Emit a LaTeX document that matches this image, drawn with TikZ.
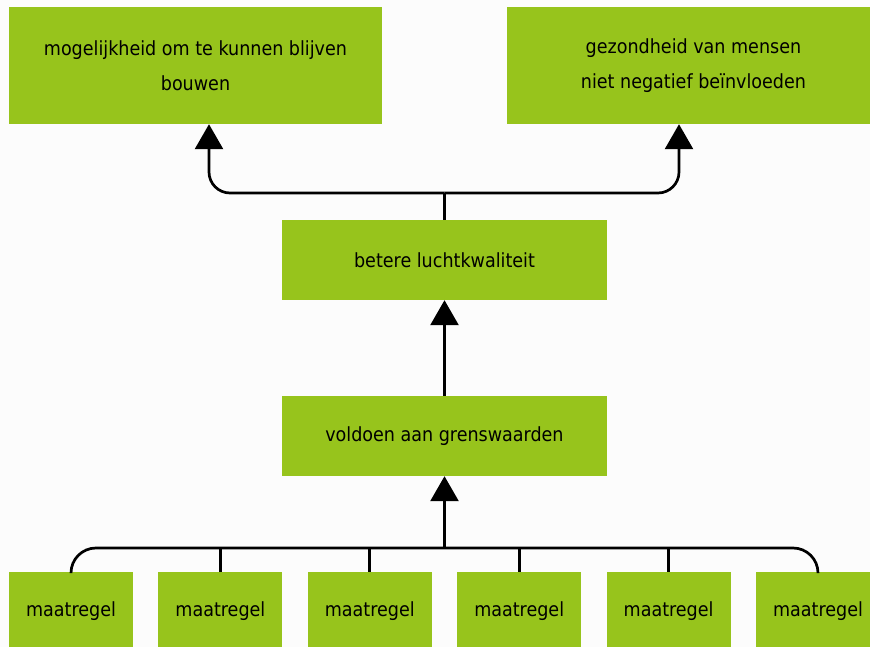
\documentclass[tikz,border=0pt]{standalone}
\usepackage{fontspec}
\setmainfont{DejaVu Sans Condensed}
\usetikzlibrary{arrows.meta}
\definecolor{boxgreen}{RGB}{151,196,28}
\definecolor{bgcol}{RGB}{252,252,252}
\tikzset{
  gbox/.style={fill=boxgreen, draw=none, inner sep=0pt, align=center,
    font=\fontsize{19.5}{35}\selectfont, text=black},
  conn/.style={line width=2.7pt, draw=black},
  arr/.style={conn, -{Triangle[width=28pt,length=25pt]}}
}
\begin{document}
\begin{tikzpicture}[x=1pt,y=-1pt]
\useasboundingbox (0,0) rectangle (870,647);
\clip (0,0) rectangle (870,647);
\fill[bgcol] (0,0) rectangle (870,647);
% top boxes
\node[gbox, minimum width=373pt, minimum height=117pt] (top1) at (195.5,65.5) {mogelijkheid om te kunnen blijven\\bouwen};
\node[gbox, minimum width=373pt, minimum height=117pt] (top2) at (693.5,65.5) {gezondheid van mensen\\niet negatief beïnvloeden};
% middle boxes
\node[gbox, minimum width=325pt, minimum height=80pt] (betere) at (444.5,260) {betere luchtkwaliteit};
\node[gbox, minimum width=325pt, minimum height=80pt] (voldoen) at (444.5,436) {voldoen aan grenswaarden};
% bottom boxes
\foreach \i in {1,...,6} {
  \node[gbox, minimum width=124pt, minimum height=78pt] (m\i) at ({71+149.4*(\i-1)},611) {maatregel};
}
% junction coordinates
\coordinate (jn) at (444.5,193);
\coordinate (jl) at (209,193);
\coordinate (jr) at (679,193);
\coordinate (bus) at (444.5,548);
% connectors top
\draw[conn] (betere.north) -- (jn);
\draw[arr, rounded corners=21pt] (jn) -- (jl) -- (jl |- top1.south);
\draw[arr, rounded corners=21pt] (jn) -- (jr) -- (jr |- top2.south);
% middle
\draw[arr] (voldoen.north) -- (betere.south);
% bottom bus
\draw[conn, rounded corners=25pt] (m1.north) -- (m1.north |- bus) -- (m6.north |- bus) -- (m6.north);
\foreach \i in {2,...,5} {
  \draw[conn] (m\i.north) -- (m\i.north |- bus);
}
\draw[arr] (voldoen.south |- bus) -- (voldoen.south);
\end{tikzpicture}
\end{document}
